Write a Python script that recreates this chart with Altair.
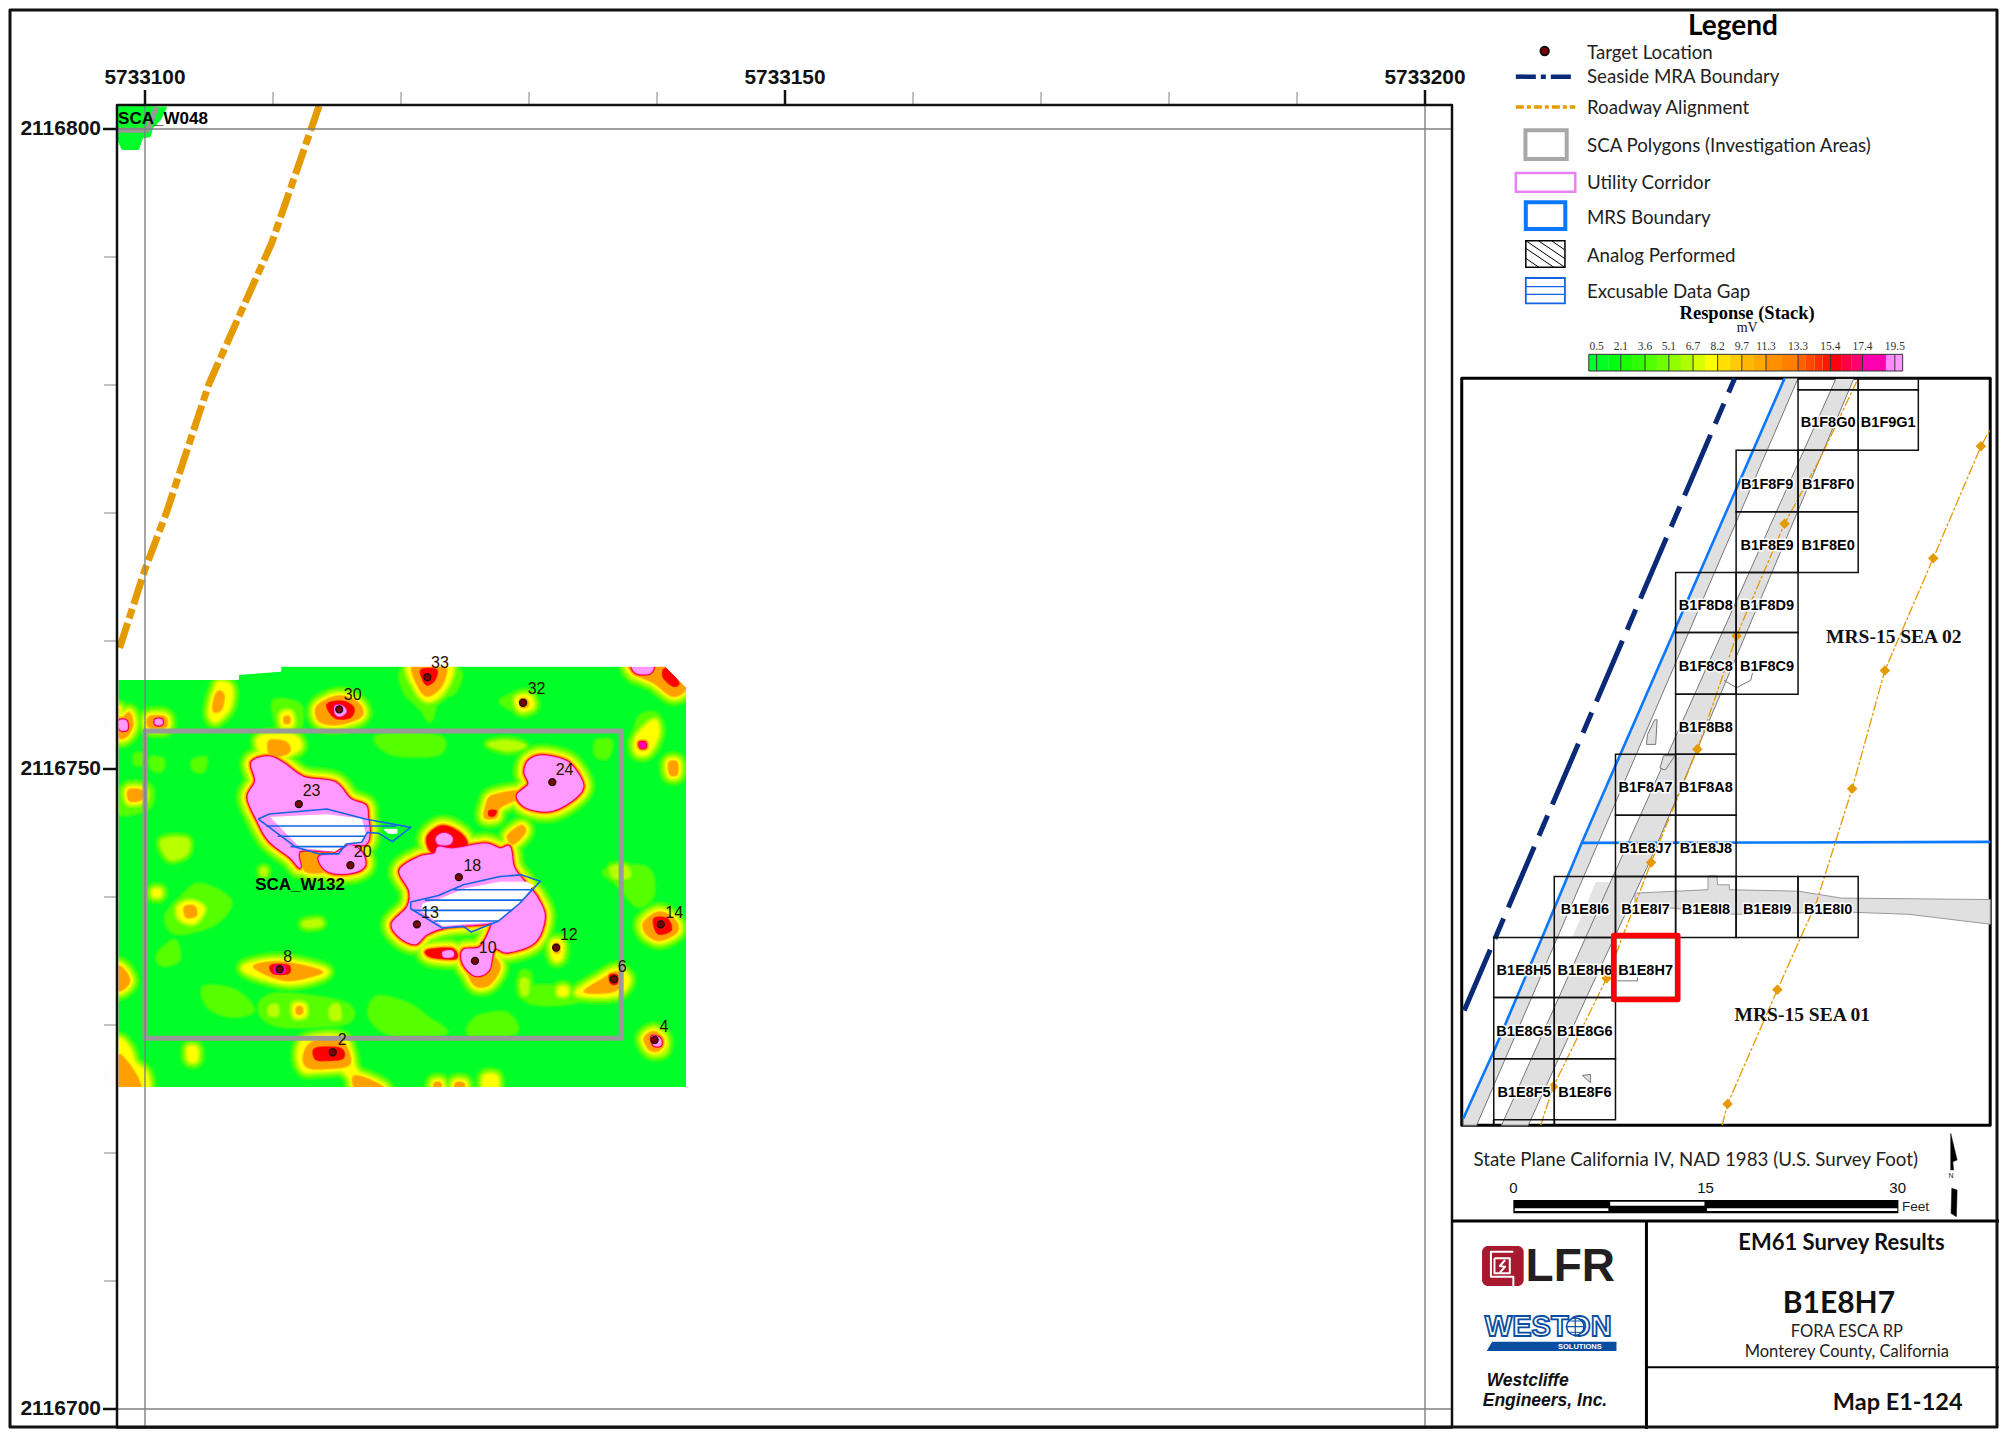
import altair as alt
import pandas as pd

W, H = 1991, 1421
SANS = "Lato"
ARIAL = "Liberation Sans"
SERIF = "Liberation Serif"

# ---------- colours of the response scale (half steps soften the contour edges)
GREEN = "#00ff28"
LEVELS = {0.5: "#2aff18", 1: "#55ff00", 1.5: "#88ff00", 2: "#b8ff00", 2.5: "#dcff00", 3: "#ffff00", 3.5: "#ffd000",
          4: "#ffa000", 4.5: "#ff5800", 5: "#ff0000", 5.5: "#ff0060", 6: "#ff00b0", 6.5: "#ff50d8", 7: "#ff99ff"}
# halo thickness (px, one side) between a level and the half step under it
THICK = {7: .3, 6.5: .3, 6: .3, 5.5: .3, 5: .6, 4.5: .7, 4: 1.1, 3.5: 1.1, 3: 1.3, 2.5: 1.3, 2: 1.8, 1.5: 1.8, 1: 2}

# ---------- survey response anomalies (digitised outlines, level, outline)
ANOMALIES = [
 (1,[(720,285),(880,285),(880,340),(760,340)]),
 (1,[(240,360),(275,350),(270,390),(245,390)]),
 (1,[(130,350),(165,355),(160,390),(135,385)]),
 (1,[(210,770),(260,730),(340,780),(300,850),(200,880),(170,830)]),
 (1,[(150,940),(195,900),(205,960),(160,975)]),
 (1,[(270,1040),(350,1050),(400,1110),(340,1130),(280,1100)]),
 (1,[(1310,690),(1420,680),(1440,760),(1400,800),(1350,740)]),
 (1,[(720,1070),(800,1090),(850,1130),(900,1180),(760,1185),(700,1130)]),
 (1,[(980,1130),(1060,1120),(1080,1180),(960,1185)]),
 (1,[(420,1080),(480,1060),(640,1090),(640,1150),(480,1160),(420,1130)]),
 (1,[(1090,1000),(1120,1000),(1120,1070),(1095,1070)]),
 (1,[(1400,230),(1450,220),(1460,300),(1430,350),(1385,330)]),
 (1,[(1290,300),(1330,300),(1320,350),(1290,345)]),
 (1,[(1100,1040),(1240,1040),(1300,1060),(1220,1090),(1120,1090)]),
 (1,[(450,180),(520,190),(520,260),(470,270)]),
 (1,[(90,340),(110,340),(110,370),(90,370)]),
 (1,[(50,440),(130,430),(130,500),(50,520)]),
 (2,[(1010,310),(1060,300),(1105,315),(1060,328)]),
 (2,[(160,600),(225,595),(225,640),(180,655)]),
 (2,[(530,845),(570,838),(575,855),(535,860)]),
 (2,[(1330,680),(1370,680),(1375,710),(1335,710)]),
 (2,[(440,1100),(460,1095),(462,1125),(440,1125)]),
 (2,[(600,1100),(620,1095),(625,1135),(600,1135)]),
 (2,[(1095,1020),(1112,1020),(1112,1060),(1097,1060)]),
 (3,[(1195,1045),(1212,1045),(1212,1062),(1195,1062)]),
 (3,[(140,750),(155,750),(155,765),(140,765)]),
 (4,[(50,240),(75,215),(85,250),(70,285),(47,285),(47,205)]),
 (7,[(50,240),(68,240),(70,265),(52,265)]),
 (4,[(128,228),(168,228),(170,258),(128,258)]),
 (7,[(145,236),(160,236),(160,250),(145,250)]),
 (3,[(310,125),(340,140),(335,200),(300,240),(285,215),(295,160)]),
 (4,[(310,150),(322,165),(315,205),(295,210),(298,170)]),
 (1,[(555,190),(610,150),(680,170),(690,230),(620,265),(565,250)]),
 (4,[(565,195),(620,165),(670,185),(680,225),(620,250),(570,240)]),
 (5,[(590,190),(630,180),(660,200),(650,230),(610,230)]),
 (7,[(612,195),(630,195),(640,212),(625,225),(612,218)]),
 (1,[(790,80),(930,80),(925,150),(880,180),(860,240),(830,200),(790,150)]),
 (3,[(805,70),(910,70),(895,145),(852,178),(820,140)]),
 (4,[(815,70),(895,70),(890,130),(852,165),(825,130)]),
 (5,[(835,85),(875,85),(870,118),(850,132),(838,112)]),
 (1,[(1040,180),(1100,150),(1135,170),(1135,210),(1090,215)]),
 (3,[(1085,170),(1115,165),(1125,195),(1100,208),(1085,195)]),
 (4,[(1092,175),(1110,175),(1112,195),(1095,198)]),
 (3,[(472,220),(495,215),(500,250),(475,255)]),
 (4,[(480,228),(492,228),(492,245),(480,245)]),
 (4,[(1380,70),(1490,70),(1525,135),(1490,165),(1440,125),(1395,100)]),
 (5,[(1465,85),(1480,85),(1505,125),(1490,135),(1465,110)]),
 (7,[(1385,70),(1435,70),(1430,95),(1395,95)]),
 (3,[(1395,290),(1440,240),(1450,280),(1425,335),(1395,335)]),
 (6,[(1403,305),(1418,305),(1418,320),(1405,320)]),
 (4,[(1480,365),(1500,365),(1500,400),(1482,400)]),
 (4,[(75,448),(110,450),(110,475),(78,480)]),
 (3,[(415,290),(500,285),(520,320),(475,345),(425,345)]),
 (4,[(440,300),(485,305),(490,335),(445,345)]),
 (7,[(395,365),(440,348),(480,370),(530,410),(610,425),(650,475),(690,495),(695,530),(700,570),(690,610),(640,610),(600,630),(520,630),(520,680),(495,650),(440,600),(410,540),(385,470),(405,420)]),
 (4,[(520,630),(570,640),(590,690),(540,695),(525,670)]),
 (7,[(570,650),(610,640),(650,615),(682,640),(685,680),(640,698),(590,690)]),
 (2,[(420,685),(432,685),(432,702),(420,702)]),
 (7,[(1115,360),(1150,345),(1210,360),(1240,395),(1255,440),(1225,480),(1170,510),(1110,500),(1085,465),(1115,430),(1105,395)]),
 (4,[(1020,465),(1090,450),(1090,470),(1040,500),(1030,530),(1000,530),(1005,490)]),
 (5,[(1012,510),(1030,510),(1025,525),(1012,525)]),
 (7,[(780,690),(830,650),(870,640),(880,620),(920,625),(1000,610),(1040,625),(1065,620),(1075,680),(1100,720),(1135,770),(1155,830),(1130,905),(1060,935),(1025,925),(1010,990),(975,1005),(945,970),(945,930),(990,920),(1020,850),(1000,850),(900,860),(850,880),(820,910),(780,890),(760,850),(800,800),(805,750)]),
 (5,[(850,590),(890,555),(940,580),(950,620),(870,640)]),
 (7,[(875,590),(895,578),(915,590),(910,610),(880,610)]),
 (4,[(950,950),(1010,940),(1040,980),(1010,1035),(970,1030)]),
 (5,[(850,930),(915,925),(925,955),(860,950)]),
 (7,[(892,935),(915,932),(918,948),(895,950)]),
 (4,[(1060,585),(1095,555),(1105,575),(1075,610)]),
 (3,[(1175,905),(1200,905),(1200,950),(1185,960),(1175,940)]),
 (4,[(1180,912),(1194,912),(1194,935),(1182,935)]),
 (2,[(1400,840),(1450,800),(1500,830),(1510,880),(1460,910),(1410,890)]),
 (4,[(1415,845),(1455,815),(1495,840),(1500,875),(1455,900),(1420,880)]),
 (5,[(1440,835),(1475,835),(1485,870),(1450,880)]),
 (3,[(380,975),(470,960),(580,985),(575,1010),(490,1030),(390,1000)]),
 (4,[(400,980),(470,965),(570,990),(560,1005),(480,1020)]),
 (5,[(445,975),(490,975),(490,1000),(450,1000)]),
 (6,[(455,978),(480,978),(480,998),(455,998)]),
 (3,[(205,800),(235,785),(268,805),(245,845),(210,835)]),
 (4,[(220,800),(245,798),(250,825),(225,830)]),
 (3,[(1240,1060),(1300,1010),(1345,985),(1375,1020),(1340,1065)]),
 (4,[(1260,1055),(1310,1015),(1345,995),(1355,1030),(1330,1055)]),
 (5,[(1325,1005),(1345,1005),(1345,1030),(1328,1030)]),
 (2,[(1405,1195),(1440,1160),(1475,1190),(1470,1240),(1430,1245)]),
 (4,[(1415,1195),(1440,1175),(1465,1200),(1455,1230),(1430,1230)]),
 (7,[(1435,1190),(1455,1195),(1458,1215),(1440,1215)]),
 (3,[(515,1240),(540,1195),(635,1195),(665,1290),(720,1340),(680,1350),(620,1285),(535,1295)]),
 (4,[(530,1245),(555,1205),(628,1205),(650,1270),(600,1285),(540,1282)]),
 (5,[(560,1225),(625,1225),(632,1255),(590,1262),(560,1258)]),
 (3,[(505,1095),(530,1095),(532,1125),(507,1128)]),
 (4,[(512,1102),(525,1102),(525,1120),(512,1120)]),
 (4,[(47,980),(70,1000),(75,1030),(47,1050)]),
 (3,[(47,1205),(75,1225),(90,1270),(120,1300),(120,1350),(47,1350)]),
 (4,[(47,1250),(70,1265),(100,1320),(100,1350),(47,1350)]),
 (3,[(230,1225),(250,1225),(250,1260),(232,1260)]),
 (4,[(660,1310),(700,1320),(740,1350),(670,1350)]),
 (4,[(870,1330),(885,1330),(885,1350),(870,1350)]),
 (4,[(925,1330),(945,1330),(945,1350),(925,1350)]),
 (3,[(1000,1310),(1030,1310),(1030,1350),(1000,1350)]),
]
FIELD = [(47, 75), (1525, 75), (1525, 1343), (47, 1343)]
MASKS = [
 [(20,0),(1600,0),(1600,140),(1525,140),(1470,75),(470,75),(470,90),(360,100),(360,115),(20,115)],
 [(1525,100),(1600,100),(1600,1420),(1525,1420)],
 [(20,1343),(1600,1343),(1600,1420),(20,1420)],
 [(15,0),(47,0),(47,1420),(15,1420)],
]
GAP_A = [(412,535),(440,520),(590,505),(690,535),(808,560),(760,603),(725,578),(695,575),(680,605),(640,610),(620,640),(570,640),(510,620)]
GAP_A_WHITE = [(445,530),(590,522),(680,535),(690,580),(680,605),(640,610),(610,632),(520,620)]
GAP_A_SPOT = [(738,566),(772,566),(772,578),(750,578)]
GAP_A_LINES = [[(432,556),(770,556)], [(462,587),(690,587)], [(495,618),(640,618)]]
GAP_B = [(808,785),(880,765),(945,733),(1040,708),(1095,703),(1145,722),(1090,790),(1035,843),(965,875),(945,858),(890,863),(808,805)]
GAP_B_WHITE = [(880,778),(950,745),(1040,725),(1110,725),(1125,735),(1090,790),(1035,843),(950,850),(890,855),(835,810),(840,790)]
GAP_B_LINES = [[(920,748),(1125,748)], [(845,779),(1100,779)], [(815,810),(1072,810)], [(868,842),(1036,842)]]
SCA_W132 = [(117,270),(1355,270),(1355,1195),(117,1195)]
TARGET_ID = ["33","32","30","24","23","20","18","13","10","14","12","8","6","4","2"]
TARGET_X = [851,1100,622,1176,517,651,933,824,975,1458,1186,467,1336,1442,605]
TARGET_Y = [108,185,205,424,490,674,710,852,962,852,922,987,1017,1200,1237]
LABEL_X = [884,1135,657,1208,550,683,968,858,1008,1493,1219,488,1358,1466,630]
LABEL_Y = [65,143,162,387,450,635,675,817,922,817,884,950,980,1160,1200]

def ft_x(z): return 5733100 + (z - 117) / 2.6 / 12.8
def ft_y(z): return 2116800 - (731 + (z - 270) / 3.01 - 129) / 12.8
def feet(pts): return [(ft_x(a), ft_y(b)) for a, b in pts]

# main map features given directly in state plane feet
ROAD = [(5733113.6,2116801.8),(5733109.9,2116791.1),(5733105,2116780.1),(5733101.7,2116770.1),(5733100,2116765.6),(5733097.9,2116759.1)]
W048_PATCH = [(5733097.9,2116801.8),(5733101.7,2116801.7),(5733101.2,2116800.7),(5733100.6,2116800.1),(5733100.4,2116799.4),(5733099.8,2116799.3),(5733099.5,2116798.4),(5733098.2,2116798.4),(5733097.9,2116799.1)]
W048_BOX = [(5733097.9,2116799.9),(5733100.2,2116799.9),(5733100.9,2116801.7)]
GRID_V = [5733100, 5733200]
GRID_H = [2116800, 2116700]
MINOR_X = [5733110,5733120,5733130,5733140,5733160,5733170,5733180,5733190]
MINOR_Y = [2116790,2116780,2116770,2116760,2116740,2116730,2116720,2116710]
MAJOR_X = [5733100,5733150,5733200]
MAJOR_Y = [2116800,2116750,2116700]

# ---------- legend
LEGEND_LABELS = ["Target Location","Seaside MRA Boundary","Roadway Alignment","SCA Polygons (Investigation Areas)","Utility Corridor","MRS Boundary","Analog Performed","Excusable Data Gap"]
LEGEND_Y = [158,232,323,437,548,653,767,875]
RAMP_LABELS = ["0.5","2.1","3.6","5.1","6.7","8.2","9.7","11.3","13.3","15.4","17.4","19.5"]
RAMP_LABEL_X = [412,480,548,615,683,752,820,888,978,1069,1159,1250]
RAMP_EDGES = [390,412,446,480,514,548,582,615,649,683,717,752,786,820,854,888,933,978,1000,1024,1047,1069,1099,1129,1159,1225,1250,1272]
RAMP_COLORS = ["#00ff30","#00ff20","#00ff10","#18ff00","#30ff00","#50ff00","#70ff00","#90ff00","#b0ff00","#d8ff00","#ffff00","#ffe000","#ffcc00","#ffb800","#ffa800","#ff9000","#ff8000","#ff6000","#ff4800","#ff3000","#ff1800","#ff0010","#ff0040","#ff0070","#ff00b0","#ff88ff","#ff99ff"]
HATCH_ANALOG = [[(213,722),(323,802)],[(213,745),(292,802)],[(213,775),(250,802)],[(248,722),(323,776)],[(285,722),(323,750)]]

# ---------- locator map
ROWS = [17,40,163,288,411,533,658,780,904,1028,1152,1274,1398,1522]
CELLS = [
 ("",978,1147,0),("",1147,1316,0),
 ("B1F8G0",978,1147,1),("B1F9G1",1147,1316,1),
 ("B1F8F9",804,978,2),("B1F8F0",978,1147,2),
 ("B1F8E9",804,978,3),("B1F8E0",978,1147,3),
 ("B1F8D8",634,804,4),("B1F8D9",804,978,4),
 ("B1F8C8",634,804,5),("B1F8C9",804,978,5),
 ("B1F8B8",634,804,6),
 ("B1F8A7",465,634,7),("B1F8A8",634,804,7),
 ("B1E8J7",465,634,8),("B1E8J8",634,804,8),
 ("B1E8I6",293,465,9),("B1E8I7",465,634,9),("B1E8I8",634,804,9),("B1E8I9",804,978,9),("B1E8I0",978,1147,9),
 ("B1E8H5",123,293,10),("B1E8H6",293,465,10),("B1E8H7",465,634,10),
 ("B1E8G5",123,293,11),("B1E8G6",293,465,11),
 ("B1E8F5",123,293,12),("B1E8F6",293,465,12),
]
BAND_1 = [(37,1522),(125,1380),(260,1150),(370,960),(940,17),(978,17),(75,1533),(37,1533)]
BAND_2 = [(145,1533),(1085,17),(1135,17),(560,1000),(385,1271),(220,1533)]
STRIP_I6 = [(345,1152),(410,1040),(465,1040),(465,1080),(395,1152)]
CROSS_ROAD = [(520,1062),(725,1055),(725,1027),(750,1027),(752,1045),(785,1045),(785,1055),(978,1058),(1100,1072),(1518,1075),(1518,1125),(1290,1105),(1100,1100),(800,1105),(520,1085)]
SMALL_1 = [(552,760),(555,740),(575,710),(582,710),(578,760)]
SMALL_2 = [(600,783),(632,783),(605,812),(590,808)]
SMALL_3 = [(372,1432),(395,1430),(395,1447)]
SMALL_4 = [(770,630),(805,645),(845,630),(850,615)]
SMALL_5 = [(470,1240),(527,1240),(527,1233)]
MRS_LINE = [(37,1520),(125,1380),(260,1150),(370,960),(940,17)]
MRS_CROSS = [(370,960),(1518,958)]
SEASIDE = [(40,1300),(800,17)]
ROAD_1 = [(255,1533),(290,1455),(440,1235),(565,1000),(695,770),(805,540),(940,312),(1040,180),(1145,20)]
ROAD_2 = [(765,1533),(780,1490),(920,1258),(1030,1080),(1130,850),(1222,610),(1358,382),(1492,155),(1518,120)]
NODES_1 = [(290,1455),(440,1235),(565,1000),(695,770),(805,540),(940,312)]
NODES_2 = [(780,1490),(920,1258),(1130,850),(1222,610),(1358,382),(1492,155)]
RED_BOX = [(460,1148),(640,1148),(640,1278),(460,1278)]
INSET_FRAME = [(33,17),(1518,17),(1518,1533),(33,1533)]

# ---------- title block
NORTH_UP = [(1407,40),(1425,120),(1413,125),(1415,150),(1407,150)]
NORTH_DOWN = [(1410,205),(1425,210),(1423,290),(1408,280)]

# ---------- helpers
K = 2.81
def unit_x(ox, k, name="x"):
    return alt.X(f"{name}:Q", scale=alt.Scale(domain=[(8-ox)*k, (8+W-ox)*k], nice=False, zero=False), axis=None)
def unit_y(oy, k, name="y"):
    return alt.Y(f"{name}:Q", scale=alt.Scale(domain=[(8+H-oy)*k, (8-oy)*k], nice=False, zero=False), axis=None)

FT_X = alt.X("x:Q", scale=alt.Scale(domain=[5733100+(8-145)/12.8, 5733100+(8+W-145)/12.8], nice=False, zero=False), axis=None)
FT_Y = alt.Y("y:Q", scale=alt.Scale(domain=[2116800-(8+H-129)/12.8, 2116800-(8-129)/12.8], nice=False, zero=False), axis=None)
LEG = (unit_x(1450, K), unit_y(0, 3))
INS = (unit_x(1450, K), unit_y(370, 2.03))
BLK = (unit_x(1450, K), unit_y(1120, 3))
MAP = (FT_X, FT_Y)

def rows_of(paths):
    out = []
    for i, (pts, fill, stroke, width) in enumerate(paths):
        for j, (a, b) in enumerate(pts):
            out.append(dict(k=i, seq=j, x=a, y=b, f=fill, s=stroke, w=width))
    return pd.DataFrame(out)

def paths(items, frame, interpolate="linear-closed", **mk):
    xe, ye = frame
    return alt.Chart(rows_of(items)).mark_line(interpolate=interpolate, strokeJoin=mk.pop("strokeJoin", "round"), **mk).encode(
        x=xe, y=ye, order=alt.Order("seq:Q"), detail="k:N",
        fill=alt.Fill("f:N", scale=None), stroke=alt.Stroke("s:N", scale=None),
        strokeWidth=alt.StrokeWidth("w:N", scale=None))

def texts(rows, frame, font=SANS, size=16, bold=False, italic=False, align="center", color="#111111", **mk):
    xe, ye = frame
    df = pd.DataFrame(rows, columns=["t", "x", "y"])
    return alt.Chart(df).mark_text(font=font, fontSize=size, fontWeight="bold" if bold else "normal",
                                   fontStyle="italic" if italic else "normal", align=align, baseline="middle", color=color, **mk).encode(
        x=xe, y=ye, text="t:N")

T = "transparent"
layers = []

# --- heat field
layers.append(paths([(feet(FIELD), GREEN, GREEN, 1)], MAP))
def halo(lvl, peak):
    total, v = 0.0, peak
    while v > lvl:
        total += THICK[v]
        v -= 0.5
    return 0.6 + 2 * total
items = []
for lvl in sorted(LEVELS):
    for peak, pts in ANOMALIES:
        if peak >= lvl:
            items.append((feet(pts), LEVELS[lvl], LEVELS[lvl], round(halo(lvl, peak), 2)))
layers.append(paths(items, MAP, interpolate="cardinal-closed"))
layers.append(paths([(feet(m), "white", "white", 1) for m in MASKS], MAP))

# --- data gaps
layers.append(paths([(feet(GAP_A_WHITE), "white", "white", 1), (feet(GAP_A_SPOT), "white", "white", 1), (feet(GAP_B_WHITE), "white", "white", 1)], MAP))
layers.append(paths([(feet(l), T, "#1464e6", 1.6) for l in GAP_A_LINES + GAP_B_LINES], MAP, interpolate="linear"))
layers.append(paths([(feet(GAP_A), T, "#1464e6", 1.6), (feet(GAP_B), T, "#1464e6", 1.6)], MAP))

# --- SCA boxes, W048 and road
layers.append(paths([(W048_PATCH, GREEN, GREEN, 1)], MAP))
layers.append(paths([(W048_BOX, T, "#999999", 5)], MAP, interpolate="linear"))
layers.append(paths([(feet(SCA_W132), T, "#999999", 5)], MAP))
layers.append(paths([(ROAD, T, "#e59a00", 7)], MAP, interpolate="linear", strokeDash=[26, 5, 10, 5], strokeJoin="miter"))

# --- grid, frame, ticks
Y_TOP, Y_BOT = 2116800 + 24/12.8, 2116700 - 18.4/12.8
X_LEFT, X_RIGHT = 5733100 - 28/12.8, 5733200 + 27/12.8
grid = [([(x, Y_BOT), (x, Y_TOP)], T, "#808080", 1.4) for x in GRID_V] + [([(X_LEFT, y), (X_RIGHT, y)], T, "#808080", 1.4) for y in GRID_H]
layers.append(paths(grid, MAP, interpolate="linear"))
minor = [([(x, Y_TOP), (x, Y_TOP + 13/12.8)], T, "#999999", 1.2) for x in MINOR_X] + [([(X_LEFT, y), (X_LEFT - 13/12.8, y)], T, "#999999", 1.2) for y in MINOR_Y]
major = [([(x, Y_TOP), (x, Y_TOP + 15/12.8)], T, "#111111", 2.5) for x in MAJOR_X] + [([(X_LEFT, y), (X_LEFT - 14/12.8, y)], T, "#111111", 2.5) for y in MAJOR_Y]
layers.append(paths(minor + major, MAP, interpolate="linear"))
layers.append(paths([([(X_LEFT, Y_TOP), (X_RIGHT, Y_TOP), (X_RIGHT, Y_BOT), (X_LEFT, Y_BOT)], T, "#111111", 2.5)], MAP))
layers.append(texts([(str(v), v, Y_TOP + 27/12.8) for v in MAJOR_X], MAP, font=ARIAL, size=20.8, bold=True))
layers.append(texts([(str(v), X_LEFT - 16/12.8, v) for v in MAJOR_Y], MAP, font=ARIAL, size=21, bold=True, align="right"))

# --- targets
layers.append(alt.Chart(pd.DataFrame({"x": [ft_x(v) for v in TARGET_X], "y": [ft_y(v) for v in TARGET_Y]})).mark_point(
    filled=True, size=50, color="#7a0000", stroke="#111111", strokeWidth=1.2, opacity=1).encode(x=MAP[0], y=MAP[1]))
layers.append(texts([(t, ft_x(a), ft_y(b)) for t, a, b in zip(TARGET_ID, LABEL_X, LABEL_Y)], MAP, font=ARIAL, size=16, color="#221100"))
layers.append(texts([("SCA_W132", ft_x(520), ft_y(735))], MAP, font=ARIAL, size=17, bold=True, color="#000000"))
layers.append(texts([("SCA_W048", 5733097.9, 2116800.8)], MAP, font=ARIAL, size=17, bold=True, color="#000000", align="left"))

# --- sheet frames
layers.append(paths([(INSET_FRAME, T, "#000000", 3)], INS))
frame_lines = [
 ([(5, 303), (1560, 303)], T, "#000000", 3),
 ([(552, 303), (552, 950)], T, "#000000", 3),
 ([(552, 742), (1560, 742)], T, "#000000", 2),
]
layers.append(paths(frame_lines, BLK, interpolate="linear"))

# --- legend
layers.append(texts([("Legend", 795, 82)], LEG, size=28, bold=True, color="#000000"))
layers.append(texts([(a, 385, b) for a, b in zip(LEGEND_LABELS, LEGEND_Y)], LEG, size=18.7, align="left", color="#222222"))
layers.append(alt.Chart(pd.DataFrame({"x": [266], "y": [153]})).mark_point(filled=True, size=70, color="#7a0000", stroke="#111111", opacity=1).encode(x=LEG[0], y=LEG[1]))
layers.append(paths([([(185, 230), (352, 230)], T, "#0a2a78", 4.5)], LEG, interpolate="linear", strokeDash=[20, 5, 5, 5], strokeJoin="miter"))
layers.append(paths([([(185, 321), (352, 321)], T, "#e59a00", 3.5)], LEG, interpolate="linear", strokeDash=[8, 3, 4, 3], strokeJoin="miter"))
layers.append(paths([
 ([(212, 391), (328, 391), (328, 477), (212, 477)], T, "#a8a8a8", 4),
 ([(185, 519), (352, 519), (352, 575), (185, 575)], T, "#e882f5", 2.5),
 ([(213, 607), (324, 607), (324, 687), (213, 687)], T, "#0a78ff", 4),
 ([(213, 722), (323, 722), (323, 802), (213, 802)], T, "#000000", 1.5),
 ([(213, 834), (323, 834), (323, 910), (213, 910)], T, "#1464e6", 1.8),
], LEG, strokeJoin="miter"))
layers.append(paths([(l, T, "#000000", 1) for l in HATCH_ANALOG] + [([(213, y), (323, y)], T, "#1464e6", 1.2) for y in (860, 883)], LEG, interpolate="linear"))
layers.append(texts([("Response (Stack)", 835, 938)], LEG, font=SERIF, size=18.5, bold=True, color="#000000"))
layers.append(texts([("mV", 835, 985)], LEG, font=SERIF, size=14))
layers.append(texts(list(zip(RAMP_LABELS, RAMP_LABEL_X, [1040]*12)), LEG, font=SERIF, size=11.5, color="#333333"))
ramp = pd.DataFrame({"x": RAMP_EDGES[:-1], "x2": RAMP_EDGES[1:], "y": [1063]*27, "y2": [1113]*27, "c": RAMP_COLORS})
layers.append(alt.Chart(ramp).mark_rect().encode(x=LEG[0], x2="x2:Q", y=LEG[1], y2="y2:Q", fill=alt.Fill("c:N", scale=None)))
layers.append(paths([([(v, 1063), (v, 1113)], T, "#333333", 1) for v in RAMP_LABEL_X] + [([(390, 1063), (1272, 1063), (1272, 1113), (390, 1113), (390, 1063)], T, "#333333", 1)], LEG, interpolate="linear"))

# --- locator map
layers.append(paths([(STRIP_I6, "#e4e4e4", "#e4e4e4", 0.5)], INS))
layers.append(paths([(BAND_1, "#e0e0e0", "#777777", 1), (BAND_2, "#e0e0e0", "#777777", 1), (CROSS_ROAD, "#e0e0e0", "#999999", 1),
                     (SMALL_1, "#e0e0e0", "#777777", 1), (SMALL_2, "#e0e0e0", "#777777", 1), (SMALL_3, "#dddddd", "#777777", 1)], INS))
layers.append(paths([(SMALL_4, T, "#777777", 1), (SMALL_5, T, "#777777", 1)], INS, interpolate="linear"))
layers.append(paths([(SEASIDE, T, "#0a2a78", 5)], INS, interpolate="linear", strokeDash=[66, 12, 22, 12], strokeJoin="miter"))
layers.append(paths([(MRS_LINE, T, "#0a78ff", 2.6), (MRS_CROSS, T, "#0a78ff", 2.6)], INS, interpolate="linear"))
layers.append(paths([(ROAD_1, T, "#e59a00", 1.3), (ROAD_2, T, "#e59a00", 1.3)], INS, interpolate="linear", strokeDash=[10, 2, 3, 2]))
nodes = pd.DataFrame(NODES_1 + NODES_2, columns=["x", "y"])
layers.append(alt.Chart(nodes).mark_point(filled=True, shape="diamond", size=110, color="#e59a00", opacity=1).encode(x=INS[0], y=INS[1]))
cells = pd.DataFrame([dict(x=a, x2=b, y=ROWS[r], y2=ROWS[r+1]) for _, a, b, r in CELLS])
layers.append(alt.Chart(cells).mark_rect(fillOpacity=0, stroke="#111111", strokeWidth=1.5).encode(x=INS[0], x2="x2:Q", y=INS[1], y2="y2:Q"))
layers.append(paths([([(v, 1522), (v, 1533)], T, "#111111", 2) for v in (123, 293)], INS, interpolate="linear"))
labelled = [(n, (a + b) / 2, (ROWS[r] + ROWS[r+1]) / 2 + 7) for n, a, b, r in CELLS if n]
layers.append(texts(labelled, INS, font=ARIAL, size=14.5, bold=True, color="white", stroke="white", strokeWidth=3, strokeOpacity=0.9))
layers.append(texts(labelled, INS, font=ARIAL, size=14.5, bold=True, color="#000000"))
layers.append(paths([(RED_BOX, T, "#ff0000", 5.5)], INS))
layers.append(texts([("MRS-15 SEA 02", 1247, 541), ("MRS-15 SEA 01", 990, 1310)], INS, font=SERIF, size=19.5, bold=True, color="#111111"))

# --- scale bar and north arrow
layers.append(texts([("State Plane California IV, NAD 1983 (U.S. Survey Foot)", 66, 120)], BLK, size=18.7, align="left", color="#222222"))
layers.append(texts([("0", 178, 205), ("15", 718, 205), ("30", 1258, 205)], BLK, font=ARIAL, size=15, color="#111111"))
layers.append(texts([("Feet", 1270, 262)], BLK, font=ARIAL, size=13.5, align="left", color="#222222"))
bar = pd.DataFrame([dict(x=178, x2=1260, y=240, y2=280, c="#000000"), dict(x=450, x2=715, y=245, y2=257, c="#ffffff"),
                    dict(x=182, x2=445, y=265, y2=273, c="#ffffff"), dict(x=722, x2=1257, y=265, y2=273, c="#ffffff")])
layers.append(alt.Chart(bar).mark_rect().encode(x=BLK[0], x2="x2:Q", y=BLK[1], y2="y2:Q", fill=alt.Fill("c:N", scale=None)))
layers.append(paths([(NORTH_UP, "#000000", "#000000", 0.5), (NORTH_DOWN, "#000000", "#000000", 0.5)], BLK))
layers.append(texts([("N", 1408, 168)], BLK, font=ARIAL, size=7, color="#222222"))

# --- title block
logo = pd.DataFrame([dict(x=90, x2=207, y=378, y2=498)])
layers.append(alt.Chart(logo).mark_rect(color="#a6192e", cornerRadius=6).encode(x=BLK[0], x2="x2:Q", y=BLK[1], y2="y2:Q"))
layers.append(paths([([(178, 395), (115, 395), (115, 470), (178, 470), (178, 498)], T, "white", 2), ([(125, 415), (168, 415), (168, 460), (125, 460), (125, 415)], T, "white", 2), ([(155, 420), (140, 438), (155, 440), (140, 458)], T, "white", 2)], BLK, interpolate="linear"))
layers.append(texts([("LFR", 338, 440)], BLK, font=ARIAL, size=46, bold=True, color="#231f20"))
layers.append(alt.Chart(pd.DataFrame({"x": [120, 465, 465, 108], "y": [668, 668, 690, 690], "seq": [0, 1, 2, 3]})).mark_line(interpolate="linear-closed", fill="#0a4ea2", stroke="#0a4ea2").encode(x=BLK[0], y=BLK[1], order="seq:Q"))
layers.append(texts([("WESTON", 276, 622)], BLK, font=ARIAL, size=29, bold=True, color="white", stroke="#0a4ea2", strokeWidth=1.8))
layers.append(alt.Chart(pd.DataFrame({"x": [352], "y": [620]})).mark_point(filled=True, size=300, fill="white", stroke="#0a4ea2", strokeWidth=1.6, opacity=1).encode(x=BLK[0], y=BLK[1]))
layers.append(paths([([(352, 590), (352, 650)], T, "#0a4ea2", 1.2), ([(325, 620), (380, 620)], T, "#0a4ea2", 1.2), ([(330, 603), (374, 603)], T, "#0a4ea2", 1), ([(330, 637), (374, 637)], T, "#0a4ea2", 1)], BLK, interpolate="linear"))
layers.append(texts([("SOLUTIONS", 365, 680)], BLK, font=ARIAL, size=7.5, bold=True, color="white"))
layers.append(texts([("Westcliffe", 103, 783), ("Engineers, Inc.", 92, 843)], BLK, font=ARIAL, size=17.5, bold=True, italic=True, align="left", color="#111111"))
layers.append(texts([("EM61 Survey Results", 1100, 368)], BLK, size=22, bold=True, color="#111111"))
layers.append(texts([("B1E8H7", 1093, 553)], BLK, size=30, bold=True, color="#111111"))
layers.append(texts([("FORA ESCA RP", 1115, 635), ("Monterey County, California", 1115, 695)], BLK, size=16.5, color="#222222"))
layers.append(texts([("Map E1-124", 1258, 850)], BLK, size=23.5, bold=True, color="#111111"))

# --- outer frame
sheet_x = alt.X("x:Q", scale=alt.Scale(domain=[8, 8 + W], nice=False, zero=False), axis=None)
sheet_y = alt.Y("y:Q", scale=alt.Scale(domain=[8 + H, 8], nice=False, zero=False), axis=None)
layers.append(paths([([(10, 10), (1997, 10), (1997, 1427), (10, 1427)], T, "#111111", 3)], (sheet_x, sheet_y)))

chart = alt.layer(*layers).resolve_scale(x="independent", y="independent").properties(
    width=W, height=H, padding=0, autosize="none", background="white"
).configure_view(stroke=None)
chart.save("out.html", embed_options={"renderer": "svg", "actions": False})
